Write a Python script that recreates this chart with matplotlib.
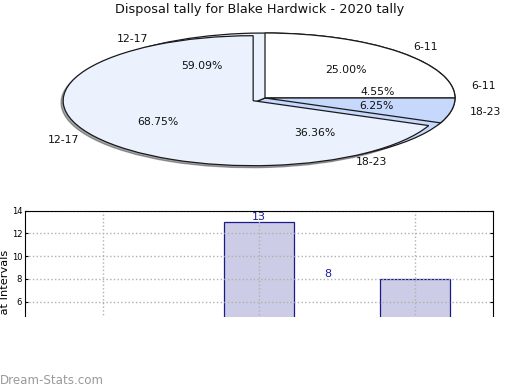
#!/usr/bin/env python
# -*- coding: utf-8 -*-

import matplotlib
matplotlib.use('Agg')
import matplotlib.pyplot as plt
from matplotlib.patches import Rectangle

# data
groups = ['6-11', '18-23', '12-17']
tally_a = [4, 1, 11]      # 25.00 / 6.25 / 68.75 %
tally_b = [1, 8, 13]      # 4.55 / 36.36 / 59.09 %
bar_groups = ['6-11', '12-17', '18-23']
bar_values = [1, 13, 8]
yticks = [0, 2, 4, 6, 8, 10, 12, 14]
title = 'Disposal tally for Blake Hardwick - 2020 tally'


def main():
    fig = plt.figure(figsize=(5.2, 3.9), dpi=100)
    W, H = 520.0, 390.0

    # flattened pie, unit circle squashed to 190 x 65 px
    ax = fig.add_axes([15 / W, (H - 176) / H, 500 / W, 156 / H])
    colors = ['#ffffff', '#c6d9fd', '#ebf1fd']
    wp = dict(edgecolor='#1a1a1a', linewidth=0.9)
    tp = dict(fontsize=7.8, color='#111111')
    # second tally drawn underneath
    ax.pie(tally_b, labels=groups, colors=colors, startangle=17.5,
           counterclock=False, autopct='%.2f%%', pctdistance=0.6,
           labeldistance=1.1, wedgeprops=wp, textprops=tp)
    ax.pie(tally_a, labels=groups, colors=colors, startangle=90,
           counterclock=False, autopct='%.2f%%', pctdistance=0.6,
           labeldistance=1.1, explode=[0, 0, 0.075], wedgeprops=wp,
           textprops=tp,
           shadow=dict(ox=-0.008, oy=-0.022, shade=0.7))
    ax.set_aspect('auto')
    ax.set_xlim(-250 / 190.0, 250 / 190.0)
    ax.set_ylim(-78 / 65.0, 78 / 65.0)
    ax.axis('off')
    fig.text(0.5, 1 - 10 / H, title, ha='center', va='center',
             fontsize=9.3, color='#111111')

    # bar chart, cut off at the bottom
    ax2 = fig.add_axes([25 / W, (H - 370) / H, 468 / W, (370 - 210.7) / H])
    x = range(len(bar_groups))
    ax2.bar(x, bar_values, width=0.45, color='#ccccE6',
            edgecolor='#1a1a8c', linewidth=0.9)
    shift = [0, 0, -0.56]
    for i, v in enumerate(bar_values):
        ax2.text(i + shift[i], v, str(v), ha='center', va='bottom',
                 fontsize=8, color='#1f1f99')
    ax2.set_xlim(-0.5, 2.5)
    ax2.set_ylim(0, 14)
    ax2.set_xticks(list(x))
    ax2.set_yticks(yticks)
    ax2.tick_params(axis='x', length=0, labelbottom=False)
    ax2.tick_params(axis='y', direction='in', length=2, labelsize=6,
                    right=True, pad=2)
    ax2.grid(True, linestyle=':', color='#b0b0b0', linewidth=1)
    ax2.set_axisbelow(False)
    for s in ax2.spines.values():
        s.set_zorder(5)
    ax2.set_ylabel('Disposals at Intervals', fontsize=8.2)
    ax2.yaxis.set_label_coords(-0.032, 0.37)

    cover = Rectangle((0, 0), 1, (H - 317) / H, transform=fig.transFigure,
                      facecolor='white', edgecolor='none', zorder=10)
    fig.add_artist(cover)
    fig.text(0.0, 1 - 380 / H, 'Dream-Stats.com', ha='left', va='center',
             fontsize=8.6, color='#9a9a9a', zorder=11)

    fig.savefig('out.png', dpi=100)


if __name__ == '__main__':
    main()
